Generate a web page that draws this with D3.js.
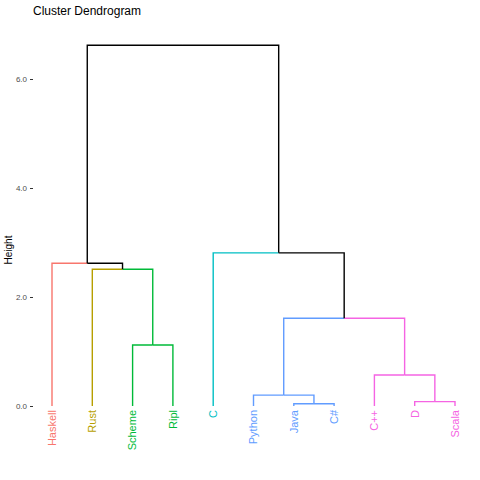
<!DOCTYPE html>
<html lang="en">
<head>
<meta charset="utf-8">
<title>Cluster Dendrogram</title>
<script src="https://cdn.jsdelivr.net/npm/d3@7"></script>
<style>
  body { margin: 0; background: white; }
  text { font-family: "Liberation Sans", Arial, sans-serif; }
</style>
</head>
<body>
<script>
var leaves = ["Haskell", "Rust", "Scheme", "Ripl", "C", "Python", "Java", "C#", "C++", "D", "Scala"];
var leafCluster = [0, 1, 2, 2, 3, 4, 4, 4, 5, 5, 5];
var clusterColors = ["#F8766D", "#B79F00", "#00BA38", "#00BFC4", "#619CFF", "#F564E3"];
// merges: [left, right, height]; negative = leaf index (-(i+1)), positive = merge number (1-based)
var merges = [
  [-10, -11, 0.08],
  [-7, -8, 0.04],
  [-6, 2, 0.2],
  [-9, 1, 0.57],
  [3, 4, 1.61],
  [-3, -4, 1.12],
  [-5, 5, 2.81],
  [-2, 6, 2.51],
  [-1, 8, 2.62],
  [9, 7, 6.62]
];
var yTicks = [0, 2, 4, 6];

var width = 480, height = 480;
var svg = d3.select("body").append("svg").attr("width", width).attr("height", height);

var x = d3.scalePoint().domain(leaves).range([52, 455]);
var y = d3.scaleLinear().domain([0, 6]).range([406, 79]);

svg.append("text").attr("x", 33).attr("y", 15).attr("font-size", 12).text("Cluster Dendrogram");

var axis = svg.append("g").attr("transform", "translate(33,0)")
  .call(d3.axisLeft(y).tickValues(yTicks).tickSize(3).tickPadding(3));
axis.select(".domain").remove();
axis.selectAll("line").attr("stroke", "#333");
axis.selectAll("text").attr("fill", "#4d4d4d").attr("font-size", 8);

svg.append("text").attr("transform", "translate(12,250) rotate(-90)")
  .attr("text-anchor", "middle").attr("font-size", 10).text("Height");

function info(id) {
  if (id < 0) {
    var i = -id - 1;
    return { x: x(leaves[i]), h: 0, cl: leafCluster[i] };
  }
  return nodes[id - 1];
}
var nodes = [];
merges.forEach(function(m) {
  var a = info(m[0]), b = info(m[1]);
  var nx = (a.x + b.x) / 2;
  var cl = a.cl === b.cl ? a.cl : -1;
  [a, b].forEach(function(c) {
    var col = c.cl >= 0 ? clusterColors[c.cl] : "black";
    svg.append("path")
      .attr("d", "M" + c.x + "," + y(c.h) + "V" + y(m[2]) + "H" + nx)
      .attr("fill", "none").attr("stroke", col).attr("stroke-width", 1.4);
  });
  nodes.push({ x: nx, h: m[2], cl: cl });
});

svg.selectAll(".leaf").data(leaves).enter().append("text")
  .attr("transform", function(d) { return "translate(" + x(d) + ",410) rotate(-90)"; })
  .attr("text-anchor", "end").attr("dy", "0.35em").attr("font-size", 11)
  .attr("fill", function(d, i) { return clusterColors[leafCluster[i]]; })
  .text(function(d) { return d; });
</script>
</body>
</html>
